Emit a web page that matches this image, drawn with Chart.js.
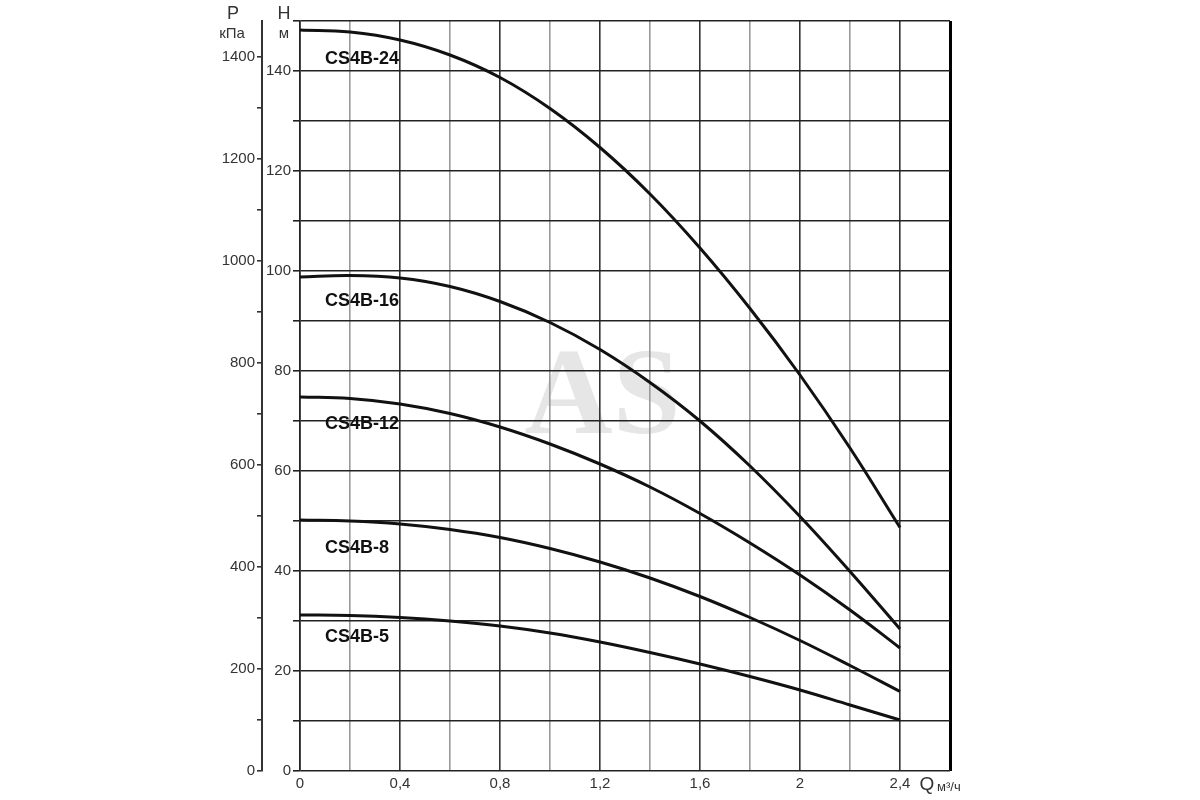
<!DOCTYPE html>
<html>
<head>
<meta charset="utf-8">
<title>CS4B</title>
<script src="https://cdn.jsdelivr.net/npm/chart.js@4.4.1/dist/chart.umd.min.js"></script>
<style>
  html, body { margin: 0; padding: 0; background: #fff; }
  #chart { display: block; }
</style>
</head>
<body>
<canvas id="chart" width="1200" height="800"></canvas>
<script>
// подача Q, м3/ч
const flow = [0, 0.2, 0.4, 0.6, 0.8, 1.0, 1.2, 1.4, 1.6, 1.8, 2.0, 2.2, 2.4];

// напор H, м
const cs4b24 = [148.2, 147.8, 146.2, 143.2, 138.7, 132.5, 124.7, 115.4, 104.6, 92.5, 79.2, 64.6, 48.7];
const cs4b16 = [98.8, 99.1, 98.6, 96.9, 93.9, 89.7, 84.3, 77.7, 70.0, 61.0, 50.9, 39.9, 28.4];
const cs4b12 = [74.8, 74.5, 73.4, 71.5, 68.8, 65.4, 61.4, 56.8, 51.5, 45.6, 39.2, 32.2, 24.6];
const cs4b8 = [50.2, 50.0, 49.4, 48.3, 46.7, 44.5, 41.8, 38.6, 34.9, 30.7, 26.1, 21.1, 15.9];
const cs4b5 = [31.2, 31.1, 30.7, 30.0, 29.0, 27.6, 25.8, 23.7, 21.4, 18.9, 16.2, 13.2, 10.2];

const pumpNames = ['CS4B-24', 'CS4B-16', 'CS4B-12', 'CS4B-8', 'CS4B-5'];
const pumpCurves = [cs4b24, cs4b16, cs4b12, cs4b8, cs4b5];
// где стоят названия кривых: Q и H
const nameQ = 0.1;
const nameH = [142.4, 93.9, 69.3, 44.6, 26.8];

const hMax = 150;
const qMax = 2.6;
const kPaPerMetre = 9.80665;

const tickFont = { family: 'Liberation Sans', size: 15 };
const tickColor = '#333';

// подписи осей, названия кривых и водяной знак
const extras = {
  id: 'extras',
  beforeDraw(chart) {
    const { ctx, scales: { x, y } } = chart;
    ctx.save();
    ctx.font = 'bold 122px "Liberation Serif"';
    ctx.fillStyle = '#e6e6e6';
    ctx.textAlign = 'center';
    ctx.textBaseline = 'middle';
    ctx.fillText('AS', x.getPixelForValue(1.21), y.getPixelForValue(74));
    ctx.restore();
  },
  afterDatasetsDraw(chart) {
    const { ctx, scales: { x, y, p } } = chart;
    ctx.save();
    ctx.fillStyle = '#111';
    ctx.font = 'bold 18px "Liberation Sans"';
    ctx.textAlign = 'left';
    ctx.textBaseline = 'middle';
    pumpNames.forEach((name, i) => {
      ctx.fillText(name, x.getPixelForValue(nameQ), y.getPixelForValue(nameH[i]));
    });

    ctx.fillStyle = tickColor;
    ctx.textAlign = 'center';
    ctx.font = '18px "Liberation Sans"';
    ctx.fillText('P', p.right - 29, 14);
    ctx.fillText('H', y.right - 16, 14);
    ctx.font = '15px "Liberation Sans"';
    ctx.fillText('кПа', p.right - 30, 34);
    ctx.fillText('м', y.right - 16, 34);

    const qx = x.getPixelForValue(2.4) + 27;
    const qy = x.top + 14;
    ctx.font = '19px "Liberation Sans"';
    ctx.fillText('Q', qx, qy);
    ctx.textAlign = 'left';
    ctx.font = '13px "Liberation Sans"';
    ctx.fillText('м³/ч', qx + 10, qy + 2);
    ctx.restore();
  }
};

new Chart(document.getElementById('chart'), {
  type: 'line',
  data: {
    datasets: pumpCurves.map((curve, i) => ({
      label: pumpNames[i],
      data: flow.map((q, j) => ({ x: q, y: curve[j] })),
      borderColor: '#111',
      borderWidth: 3,
      pointRadius: 0,
      tension: 0.4,
      fill: false
    }))
  },
  options: {
    responsive: false,
    animation: false,
    layout: { padding: { left: 210, right: 250, top: 21, bottom: 0 } },
    plugins: {
      legend: { display: false },
      tooltip: { enabled: false }
    },
    scales: {
      x: {
        type: 'linear',
        min: 0,
        max: qMax,
        afterFit: (scale) => { scale.height = 29; },
        ticks: {
          stepSize: 0.2,
          padding: 4,
          font: tickFont,
          color: tickColor,
          maxRotation: 0,
          autoSkip: false,
          callback: (v) => {
            const k = Math.round(v * 10);
            if (k % 4 !== 0 || k > 24) return '';
            return String(k / 10).replace('.', ',');
          }
        },
        grid: {
          drawTicks: false,
          color: (c) => {
            const k = Math.round(c.tick.value * 10);
            if (k === 26) return '#000';
            return k % 4 === 0 ? '#333' : '#999';
          },
          lineWidth: (c) => (Math.round(c.tick.value * 10) === 26 ? 3 : 1.6)
        },
        border: { display: false }
      },
      y: {
        type: 'linear',
        position: 'left',
        weight: 0,
        min: 0,
        max: hMax,
        afterFit: (scale) => { scale.width = 38; },
        ticks: {
          stepSize: 10,
          padding: 2,
          font: tickFont,
          color: tickColor,
          autoSkip: false,
          callback: (v) => (v % 20 === 0 && v < hMax ? v : '')
        },
        grid: {
          color: '#222',
          lineWidth: 1.6,
          tickLength: 7
        },
        border: { display: true, color: '#222', width: 1.6 }
      },
      p: {
        type: 'linear',
        position: 'left',
        weight: 1,
        min: 0,
        max: hMax * kPaPerMetre,
        afterFit: (scale) => { scale.width = 52; },
        ticks: {
          stepSize: 100,
          includeBounds: false,
          padding: 2,
          font: tickFont,
          color: tickColor,
          autoSkip: false,
          callback: (v) => (v % 200 === 0 ? v : '')
        },
        grid: {
          drawOnChartArea: false,
          color: '#333',
          lineWidth: 1.6,
          tickLength: 5
        },
        border: { display: true, color: '#333', width: 2 }
      }
    }
  },
  plugins: [extras]
});
</script>
</body>
</html>
